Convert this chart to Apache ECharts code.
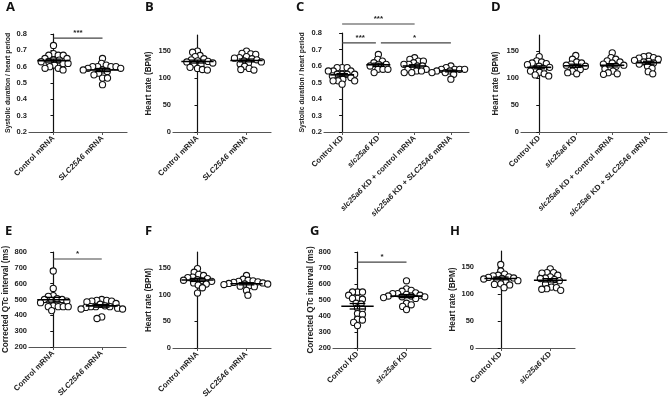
<!DOCTYPE html>
<html><head><meta charset="utf-8">
<script src="https://cdn.jsdelivr.net/npm/echarts@6/dist/echarts.min.js"></script>
<style>html,body{margin:0;padding:0;background:#fff}#c{width:669px;height:399px}</style>
</head><body><div id="c"></div>
<script>
// ---------- categories ----------
const catsMRNA = ['Control mRNA', 'SLC25A6 mRNA'];
const catsKD4 = ['Control KD', 'slc25a6 KD', 'slc25a6 KD + control mRNA', 'slc25a6 KD + SLC25A6 mRNA'];
const catsKD2 = ['Control KD', 'slc25a6 KD'];

// ---------- tick labels ----------
const ticksRatio = [0.2, 0.3, 0.4, 0.5, 0.6, 0.7, 0.8];
const ticksHR = [0, 50, 100, 150];
const ticksQTc = [200, 300, 400, 500, 600, 700, 800];

// ---------- A: systolic duration / heart period (mRNA) ----------
const A_ctrlmRNA = [0.73, 0.68, 0.67, 0.67, 0.67, 0.65, 0.65, 0.64, 0.64, 0.63, 0.63, 0.62, 0.62, 0.61, 0.60, 0.59, 0.59, 0.58];
const A_slcmRNA = [0.65, 0.62, 0.61, 0.60, 0.60, 0.60, 0.60, 0.59, 0.59, 0.58, 0.58, 0.57, 0.56, 0.55, 0.53, 0.53, 0.49];
const A_sig = [[0, 1, 0.775, '***']];

// ---------- B: heart rate (mRNA) ----------
const B_ctrlmRNA = [150, 148, 142, 140, 136, 134, 132, 131, 130, 128, 126, 125, 120, 118, 116, 115];
const B_slcmRNA = [150, 146, 145, 144, 140, 138, 137, 136, 134, 132, 130, 128, 126, 122, 118, 116, 115];

// ---------- C: systolic duration / heart period (KD) ----------
const C_ctrlKD = [0.59, 0.59, 0.59, 0.57, 0.57, 0.57, 0.55, 0.55, 0.55, 0.55, 0.54, 0.53, 0.52, 0.51, 0.51, 0.51, 0.49];
const C_slcKD = [0.67, 0.64, 0.63, 0.62, 0.61, 0.61, 0.60, 0.58, 0.58, 0.58, 0.56];
const C_slcKD_ctrlmRNA = [0.65, 0.64, 0.63, 0.63, 0.62, 0.61, 0.61, 0.60, 0.60, 0.59, 0.58, 0.58, 0.57, 0.57, 0.56, 0.56];
const C_slcKD_slcmRNA = [0.60, 0.59, 0.58, 0.58, 0.58, 0.58, 0.57, 0.57, 0.57, 0.56, 0.56, 0.55, 0.52];
const C_sig = [[0, 2, 0.855, '***'], [0, 1, 0.74, '***'], [1, 3, 0.74, '*']];

// ---------- D: heart rate (KD) ----------
const D_ctrlKD = [140, 132, 130, 128, 127, 125, 122, 120, 118, 116, 113, 111, 108, 106, 104];
const D_slcKD = [142, 135, 130, 128, 126, 124, 122, 120, 116, 113, 110, 108];
const D_slcKD_ctrlmRNA = [147, 138, 135, 132, 130, 128, 126, 124, 122, 120, 117, 113, 110, 108, 107];
const D_slcKD_slcmRNA = [141, 140, 138, 137, 135, 133, 131, 130, 128, 126, 122, 118, 112, 108];

// ---------- E: corrected QTc (mRNA) ----------
const E_ctrlmRNA = [680, 570, 525, 520, 505, 500, 500, 495, 490, 480, 460, 455, 455, 455, 455, 430];
const E_slcmRNA = [500, 495, 495, 490, 490, 485, 475, 470, 460, 455, 455, 455, 450, 445, 440, 440, 390, 380];
const E_sig = [[0, 1, 756, '*']];

// ---------- F: heart rate (mRNA) ----------
const F_ctrlmRNA = [149, 142, 138, 136, 133, 132, 130, 128, 127, 126, 125, 122, 120, 118, 113, 103];
const F_slcmRNA = [136, 129, 127, 126, 125, 124, 123, 122, 121, 120, 120, 119, 117, 116, 115, 108, 99];

// ---------- G: corrected QTc (KD) ----------
const G_ctrlKD = [550, 550, 550, 530, 510, 510, 505, 480, 475, 450, 445, 415, 410, 380, 375, 360, 340];
const G_slcKD = [620, 570, 560, 555, 545, 540, 540, 535, 530, 525, 525, 520, 520, 515, 510, 480, 470, 460, 440];
const G_sig = [[0, 1, 737, '*']];

// ---------- H: heart rate (KD) ----------
const H_ctrlKD = [155, 143, 137, 135, 134, 132, 131, 130, 129, 128, 126, 125, 123, 119, 118, 117, 112];
const H_slcKD = [147, 140, 140, 139, 135, 132, 130, 129, 127, 125, 122, 119, 113, 112, 110, 109, 107];

// ---------- panel definitions ----------
const T_RATIO = 'Systolic duration / heart period';
const T_HR = 'Heart rate (BPM)';
const T_QTC = 'Corrected QTc interval (ms)';

const panels = [
  { key: 'A', cats: catsMRNA, groups: [A_ctrlmRNA, A_slcmRNA], ticks: ticksRatio, title: T_RATIO, sig: A_sig, dec: 1 },
  { key: 'B', cats: catsMRNA, groups: [B_ctrlmRNA, B_slcmRNA], ticks: ticksHR, max: 180, title: T_HR, sig: [], dec: 0 },
  { key: 'C', cats: catsKD4, groups: [C_ctrlKD, C_slcKD, C_slcKD_ctrlmRNA, C_slcKD_slcmRNA], ticks: ticksRatio, title: T_RATIO, sig: C_sig, dec: 1 },
  { key: 'D', cats: catsKD4, groups: [D_ctrlKD, D_slcKD, D_slcKD_ctrlmRNA, D_slcKD_slcmRNA], ticks: ticksHR, max: 180, title: T_HR, sig: [], dec: 0 },
  { key: 'E', cats: catsMRNA, groups: [E_ctrlmRNA, E_slcmRNA], ticks: ticksQTc, title: T_QTC, sig: E_sig, dec: 0 },
  { key: 'F', cats: catsMRNA, groups: [F_ctrlmRNA, F_slcmRNA], ticks: ticksHR, max: 180, title: T_HR, sig: [], dec: 0 },
  { key: 'G', cats: catsKD2, groups: [G_ctrlKD, G_slcKD], ticks: ticksQTc, title: T_QTC, sig: G_sig, dec: 0 },
  { key: 'H', cats: catsKD2, groups: [H_ctrlKD, H_slcKD], ticks: ticksHR, max: 180, title: T_HR, sig: [], dec: 0 }
];

// ---------- layout (pixels) ----------
const layout = {
  A: { left: 29, top: 34, width: 98, height: 98, nameGap: 17, nameSize: 6.8, lx: 6, ly: 1 },
  B: { left: 173, top: 35, width: 98, height: 97, nameGap: 20, nameSize: 8.2, lx: 145, ly: 1 },
  C: { left: 324, top: 33, width: 145, height: 99, nameGap: 18, nameSize: 6.8, lx: 296, ly: 1 },
  D: { left: 521, top: 35, width: 146, height: 97, nameGap: 21, nameSize: 8.2, lx: 491, ly: 1 },
  E: { left: 29, top: 252, width: 97, height: 95, nameGap: 19, nameSize: 8.2, lx: 5, ly: 225 },
  F: { left: 173, top: 252, width: 98, height: 96, nameGap: 20, nameSize: 8.2, lx: 145, ly: 225 },
  G: { left: 333, top: 252, width: 98, height: 96, nameGap: 18, nameSize: 8.2, lx: 310, ly: 225 },
  H: { left: 476, top: 251, width: 99, height: 97, nameGap: 19, nameSize: 8.2, lx: 450, ly: 225 }
};

const FONT = '"Liberation Sans", Arial, sans-serif';
const DIAM = 5.0;   // minimum distance between point centres in px (swarm layout, slight overlap allowed)

// deterministic beeswarm layout: returns horizontal offsets in px
function swarm(values, pxPerUnit) {
  const order = values.map((v, i) => i).sort((a, b) => values[b] - values[a]);
  const placed = [];
  const off = new Array(values.length);
  order.forEach((i, k) => {
    const y = values[i] * pxPerUnit;
    const cands = [0];
    placed.forEach(p => {
      const dy = Math.abs(p.y - y);
      if (dy < DIAM) {
        const dx = Math.sqrt(DIAM * DIAM - dy * dy);
        cands.push(p.x + dx + 0.01, p.x - dx - 0.01);
      }
    });
    const ok = cands.filter(c => placed.every(p => (p.x - c) * (p.x - c) + (p.y - y) * (p.y - y) >= DIAM * DIAM - 0.05));
    ok.sort((a, b) => (Math.abs(a) - Math.abs(b)) || (k % 2 ? a - b : b - a));
    off[i] = ok[0];
    placed.push({ x: ok[0], y: y });
  });
  return off;
}

function mean(a) { return a.reduce((s, v) => s + v, 0) / a.length; }
function sem(a) {
  const m = mean(a);
  const v = a.reduce((s, x) => s + (x - m) * (x - m), 0) / (a.length - 1);
  return Math.sqrt(v / a.length);
}

function fmtCat(v) {
  return v.replace(/(slc25a6|SLC25A6)/g, '{i|$1}');
}

const option = {
  animation: false,
  backgroundColor: '#fff',
  title: [], grid: [], xAxis: [], yAxis: [], series: []
};

panels.forEach((p, g) => {
  const L = layout[p.key];
  const n = p.cats.length;
  const min = p.ticks[0];
  const max = p.max !== undefined ? p.max : p.ticks[p.ticks.length - 1];
  const interval = p.ticks[1] - p.ticks[0];
  const pxPerUnitY = L.height / (max - min);
  const bandPx = L.width / n;

  option.title.push({
    text: p.key, left: L.lx, top: L.ly, padding: 0,
    textStyle: { fontFamily: '"Open Sans", sans-serif', fontWeight: 'bold', fontSize: 13, color: '#111' }
  });
  option.grid.push({ left: L.left, top: L.top, width: L.width, height: L.height, containLabel: false, outerBoundsMode: 'none' });

  const xi = option.xAxis.length;
  option.xAxis.push({
    type: 'category', gridIndex: g, data: p.cats, boundaryGap: true,
    axisLine: { show: true, lineStyle: { color: '#555', width: 1.2 } },
    axisTick: { show: true, alignWithLabel: true, length: 3, lineStyle: { color: '#555', width: 1 } },
    axisLabel: {
      interval: 0, rotate: 45, margin: 5, fontSize: 7.8, fontWeight: 'bold', color: '#222', fontFamily: FONT,
      formatter: fmtCat,
      rich: { i: { fontStyle: 'italic', fontWeight: 'bold', fontSize: 7.8, color: '#222', fontFamily: FONT } }
    },
    splitLine: { show: false }
  });
  option.xAxis.push({ type: 'value', gridIndex: g, min: -0.5, max: n - 0.5, show: false });

  option.yAxis.push({
    type: 'value', gridIndex: g, min: min, max: max, interval: interval,
    name: p.title, nameLocation: 'middle', nameRotate: 90, nameGap: L.nameGap,
    nameTextStyle: { fontSize: L.nameSize, fontWeight: 'bold', fontFamily: FONT, color: '#222' },
    axisLine: { show: true, lineStyle: { color: '#111', width: 1.2 } },
    axisTick: { show: true, length: 3, customValues: p.ticks, lineStyle: { color: '#111' } },
    axisLabel: {
      customValues: p.ticks, margin: 2, fontSize: 7.5, fontWeight: 'bold', color: '#222', fontFamily: FONT,
      formatter: v => Number(v).toFixed(p.dec)
    },
    splitLine: { show: false }
  });

  // scatter points
  const pts = [];
  p.groups.forEach((vals, ci) => {
    const off = swarm(vals, pxPerUnitY);
    vals.forEach((v, j) => pts.push([ci + off[j] / bandPx, v]));
  });
  option.series.push({
    type: 'scatter', xAxisIndex: xi + 1, yAxisIndex: g, data: pts,
    symbol: 'circle', symbolSize: 6.2, z: 2,
    itemStyle: { color: '#fff', borderColor: '#111', borderWidth: 1.1, opacity: 1 },
    emphasis: { disabled: true }
  });

  // mean ± SEM
  const ms = p.groups.map((vals, ci) => [ci, mean(vals), sem(vals)]);
  option.series.push({
    type: 'custom', xAxisIndex: xi + 1, yAxisIndex: g, data: ms, z: 3,
    renderItem: (params, api) => {
      const c = api.value(0), m = api.value(1), s = api.value(2);
      const pt = api.coord([c, m]);
      const bw = api.size([1, 0])[0];
      const yt = api.coord([c, m + s])[1], yb = api.coord([c, m - s])[1];
      const hw = bw * 0.33, cw = bw * 0.16;
      const st = { stroke: '#000', lineWidth: 1.3 };
      return {
        type: 'group', children: [
          { type: 'line', shape: { x1: pt[0] - hw, y1: pt[1], x2: pt[0] + hw, y2: pt[1] }, style: { stroke: '#000', lineWidth: 1.6 } },
          { type: 'line', shape: { x1: pt[0], y1: yt, x2: pt[0], y2: yb }, style: st },
          { type: 'line', shape: { x1: pt[0] - cw, y1: yt, x2: pt[0] + cw, y2: yt }, style: st },
          { type: 'line', shape: { x1: pt[0] - cw, y1: yb, x2: pt[0] + cw, y2: yb }, style: st }
        ]
      };
    }
  });

  // significance brackets
  if (p.sig.length) {
    const sig = p.sig;
    option.series.push({
      type: 'custom', xAxisIndex: xi + 1, yAxisIndex: g, z: 4, clip: false,
      data: sig.map(s => [s[0], s[2], s[1]]),
      renderItem: (params, api) => {
        const s = sig[params.dataIndex];
        const a = api.coord([s[0], s[2]]);
        const b = api.coord([s[1], s[2]]);
        const shareL = sig.some((o, k) => k !== params.dataIndex && o[2] === s[2] && o[1] === s[0]);
        const shareR = sig.some((o, k) => k !== params.dataIndex && o[2] === s[2] && o[0] === s[1]);
        const x1 = a[0] + (shareL ? 2.5 : 0), x2 = b[0] - (shareR ? 2.5 : 0);
        return {
          type: 'group', children: [
            { type: 'line', shape: { x1: x1, y1: a[1], x2: x2, y2: a[1] }, style: { stroke: '#444', lineWidth: 1.1 } },
            { type: 'text', x: (a[0] + b[0]) / 2, y: a[1] - 1, style: { text: s[3], align: 'center', verticalAlign: 'bottom', fontSize: 8, fontWeight: 'bold', fontFamily: FONT, fill: '#222' } }
          ]
        };
      }
    });
  }
});

const chart = echarts.init(document.getElementById('c'), null, { renderer: 'canvas' });
chart.setOption(option);
</script>
</body></html>
